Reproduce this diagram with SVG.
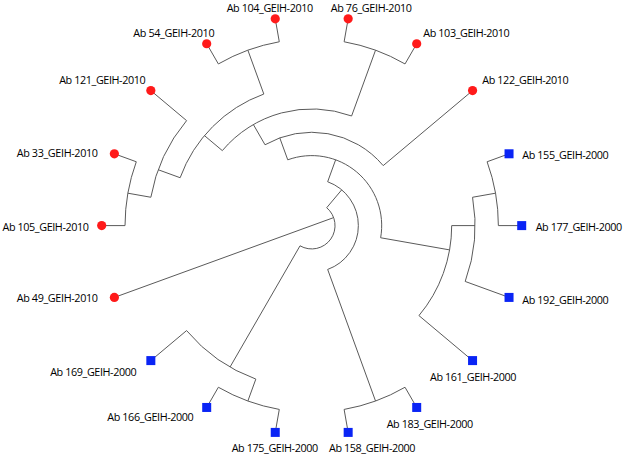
<svg xmlns="http://www.w3.org/2000/svg" width="625" height="456" viewBox="0 0 625 456">
<style>
.c{fill:none;stroke:#5a5a5a;stroke-width:1}
.r{fill:#ff1a1a}
.b{fill:#0a24f5}
text{font-family:"Open Sans","Liberation Sans",sans-serif;font-size:10.8px;fill:#000}
</style>
<rect width="625" height="456" fill="#fff"/>
<g id="connectors" class="c">
<path d="M114.36,297.42 L333.63,217.62"/>
<path d="M326.70,207.73 A23.333,23.333 0 0 1 300.03,245.81 M326.70,207.73 L341.70,189.85 M300.03,245.81 L230.03,367.05"/>
<path d="M327.66,181.75 A46.667,46.667 0 0 1 327.66,269.45 M327.66,181.75 L335.64,159.82 M327.66,269.45 L375.54,401.01"/>
<path d="M287.76,159.82 A70,70 0 0 1 380.64,237.75 M287.76,159.82 L279.78,137.89 M380.64,237.75 L449.57,249.90"/>
<path d="M265.03,144.77 A93.333,93.333 0 0 1 383.19,165.61 M265.03,144.77 L253.37,124.56 M383.19,165.61 L472.56,90.61"/>
<path d="M222.33,150.61 A116.667,116.667 0 0 1 351.60,115.97 M222.33,150.61 L204.46,135.61 M351.60,115.97 L375.54,50.19"/>
<path d="M180.14,177.72 A140,140 0 0 1 263.82,94.04 M180.14,177.72 L158.21,169.74 M263.82,94.04 L247.86,50.19"/>
<path d="M150.85,197.25 A163.333,163.333 0 0 1 186.59,120.61 M150.85,197.25 L127.87,193.20 M186.59,120.61 L150.84,90.61"/>
<path d="M125.03,225.6 A186.667,186.667 0 0 1 136.29,161.76 M125.03,225.6 L101.7,225.6 M136.29,161.76 L114.36,153.78"/>
<path d="M218.37,63.94 A186.667,186.667 0 0 1 279.29,41.77 M218.37,63.94 L206.7,43.74 M279.29,41.77 L275.24,18.79"/>
<path d="M344.11,41.77 A186.667,186.667 0 0 1 405.03,63.94 M344.11,41.77 L348.16,18.79 M405.03,63.94 L416.7,43.74"/>
<path d="M451.7,225.6 A140,140 0 0 1 418.94,315.59 M451.7,225.6 L475.03,225.6 M418.94,315.59 L472.56,360.59"/>
<path d="M472.55,197.25 A163.333,163.333 0 0 1 465.19,281.46 M472.55,197.25 L495.53,193.20 M465.19,281.46 L509.04,297.42"/>
<path d="M487.11,161.76 A186.667,186.667 0 0 1 498.37,225.6 M487.11,161.76 L509.04,153.78 M498.37,225.6 L521.7,225.6"/>
<path d="M405.03,387.26 A186.667,186.667 0 0 1 344.11,409.43 M405.03,387.26 L416.7,407.46 M344.11,409.43 L348.16,432.41"/>
<path d="M186.59,330.59 A163.333,163.333 0 0 0 255.84,379.09 M186.59,330.59 L150.84,360.59 M255.84,379.09 L247.86,401.01"/>
<path d="M218.37,387.26 A186.667,186.667 0 0 0 279.29,409.43 M218.37,387.26 L206.7,407.46 M279.29,409.43 L275.24,432.41"/>
</g>
<g id="ab104"><circle class="r" cx="275.24" cy="18.79" r="4.6"/><text x="226.7" y="11.5" textLength="86.5">Ab 104_GEIH-2010</text></g>
<g id="ab76"><circle class="r" cx="348.16" cy="18.79" r="4.6"/><text x="330.7" y="11.5" textLength="81.3">Ab 76_GEIH-2010</text></g>
<g id="ab103"><circle class="r" cx="416.7" cy="43.74" r="4.6"/><text x="423.3" y="36.5" textLength="86.5">Ab 103_GEIH-2010</text></g>
<g id="ab122"><circle class="r" cx="472.56" cy="90.61" r="4.6"/><text x="482.3" y="83.5" textLength="86.5">Ab 122_GEIH-2010</text></g>
<g id="ab54"><circle class="r" cx="206.7" cy="43.74" r="4.6"/><text x="133.3" y="36.5" textLength="81.3">Ab 54_GEIH-2010</text></g>
<g id="ab121"><circle class="r" cx="150.84" cy="90.61" r="4.6"/><text x="59.2" y="83.5" textLength="86.5">Ab 121_GEIH-2010</text></g>
<g id="ab33"><circle class="r" cx="114.36" cy="153.78" r="4.6"/><text x="16.7" y="157" textLength="81.3">Ab 33_GEIH-2010</text></g>
<g id="ab105"><circle class="r" cx="101.7" cy="225.6" r="4.6"/><text x="2.5" y="231" textLength="86.5">Ab 105_GEIH-2010</text></g>
<g id="ab49"><circle class="r" cx="114.36" cy="297.42" r="4.6"/><text x="16.7" y="301.5" textLength="81.3">Ab 49_GEIH-2010</text></g>
<g id="ab155"><rect class="b" x="504.54" y="149.28" width="9" height="9"/><text x="522.3" y="158.5" textLength="86.5">Ab 155_GEIH-2000</text></g>
<g id="ab177"><rect class="b" x="517.2" y="221.1" width="9" height="9"/><text x="535.7" y="231" textLength="86.5">Ab 177_GEIH-2000</text></g>
<g id="ab192"><rect class="b" x="504.54" y="292.92" width="9" height="9"/><text x="522.3" y="303.5" textLength="86.5">Ab 192_GEIH-2000</text></g>
<g id="ab161"><rect class="b" x="468.06" y="356.09" width="9" height="9"/><text x="430" y="380.5" textLength="86.5">Ab 161_GEIH-2000</text></g>
<g id="ab183"><rect class="b" x="412.2" y="402.96" width="9" height="9"/><text x="386.7" y="427.5" textLength="86.5">Ab 183_GEIH-2000</text></g>
<g id="ab158"><rect class="b" x="343.66" y="427.91" width="9" height="9"/><text x="329" y="452" textLength="86.5">Ab 158_GEIH-2000</text></g>
<g id="ab175"><rect class="b" x="270.74" y="427.91" width="9" height="9"/><text x="231.7" y="452" textLength="86.5">Ab 175_GEIH-2000</text></g>
<g id="ab166"><rect class="b" x="202.2" y="402.96" width="9" height="9"/><text x="107.3" y="420.5" textLength="86.5">Ab 166_GEIH-2000</text></g>
<g id="ab169"><rect class="b" x="146.34" y="356.09" width="9" height="9"/><text x="50.2" y="375.5" textLength="86.5">Ab 169_GEIH-2000</text></g>
</svg>
